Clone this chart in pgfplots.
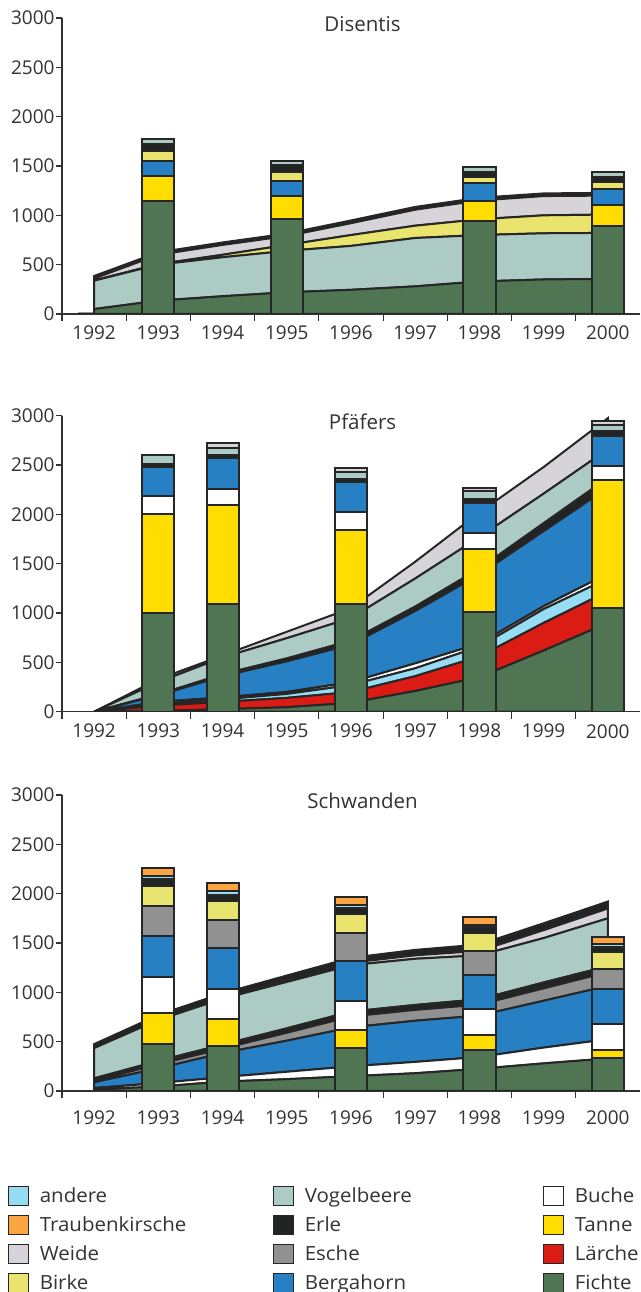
\documentclass[border=0pt]{standalone}
\usepackage{fontspec}
\setmainfont{Open Sans}
\newfontfamily\legfont[FakeStretch=1.05]{Open Sans}
\usepackage{pgfplots}
\usepackage{pgfplotstable}
\pgfplotsset{compat=1.18}

\definecolor{cFi}{RGB}{80,117,83}
\definecolor{cLa}{RGB}{218,28,20}
\definecolor{cTa}{RGB}{255,221,0}
\definecolor{cBu}{RGB}{255,255,255}
\definecolor{cBe}{RGB}{40,128,196}
\definecolor{cEs}{RGB}{145,145,145}
\definecolor{cEr}{RGB}{34,36,36}
\definecolor{cVo}{RGB}{172,203,196}
\definecolor{cBi}{RGB}{233,228,110}
\definecolor{cWe}{RGB}{214,212,216}
\definecolor{cTr}{RGB}{250,165,65}
\definecolor{cAn}{RGB}{150,220,242}
\definecolor{lc}{RGB}{38,38,38}
\definecolor{axc}{RGB}{50,50,50}
\definecolor{txc}{RGB}{51,51,51}

% ---------- Disentis ----------
\pgfplotstableread{
x Fi Vo Bi We To
1991.75 0 0 0 0 0
1991.999 0 0 0 0 0
1992 50 288 2 20 25
1993 135 365 5 95 25
1994 180 395 25 100 25
1995 220 420 60 90 25
1996 245 445 110 120 28
1997 280 490 125 162 28
1998 330 470 160 190 28
1999 350 468 182 195 27
2000 356 466 186 192 28
}\disA
\pgfplotstableread{
x Fi Ta Be Bi Er Vo
1993 1150 250 153 95 77 48
1995 963 230 152 95 67 48
1998 940 210 174 67 51 51
2000 895 210 162 74 51 51
}\disB
% ---------- Pfaefers ----------
\pgfplotstableread{
x Fi La An Bu Be Er Vo We
1992 0 0 0 0 0 0 0 0
1993 8 52 20 20 65 10 125 30
1994 25 75 25 20 215 20 170 20
1995 45 95 40 20 310 30 205 65
1996 90 110 70 30 380 40 230 100
1997 210 150 80 50 530 45 285 170
1998 350 210 100 30 700 60 320 250
1999 620 280 140 30 760 80 300 270
2000 900 320 130 50 870 100 290 315
}\pfaA
\pgfplotstableread{
x Fi Ta Bu Be Er Vo We
1993 1004 1000 180 300 30 90 0
1994 1092 1004 163 308 30 80 45
1996 1092 748 180 303 32 70 40
1998 1011 639 165 300 45 78 30
2000 1055 1290 150 300 45 70 35
}\pfaB
% ---------- Schwanden ----------
\pgfplotstableread{
x Fi Bu Be Es Er Vo We To
1992 15 15 58 15 25 307 5 35
1993 45 35 150 40 35 415 10 40
1994 95 45 245 45 40 465 15 40
1995 120 75 315 80 45 470 20 45
1996 150 100 395 110 50 470 25 50
1997 180 115 417 110 50 468 35 55
1998 225 120 420 110 55 445 45 65
1999 280 160 475 125 60 450 80 70
2000 330 195 540 140 60 485 100 70
}\schA
\pgfplotstableread{
x Fi Ta Bu Be Es Bi Er An Tr
1993 476 311 372 416 303 203 68 35 80
1994 456 274 300 416 290 193 57 40 80
1996 440 178 298 397 290 187 68 30 82
1998 416 152 260 350 240 180 62 25 75
2000 331 85 260 355 210 165 57 25 70
}\schB

\pgfplotsset{
 geom/.style={scale only axis, width=578pt, height=296pt,
   xmin=1991.5, xmax=2000.5, ymin=0, ymax=3000, enlargelimits=false,
   anchor=south west},
 panel/.style={geom,
   axis x line=bottom, axis y line=left,
   axis line style={-, draw=axc, line width=1.2pt},
   xtick={1992,...,2000}, minor xtick={1991.5,1992.5,...,1999.5},
   ytick={0,500,...,3000},
   tick style={draw=axc, line width=1.2pt},
   major x tick style=transparent,
   tick align=outside, major tick length=6pt, minor tick length=7pt,
   /pgf/number format/1000 sep={},
   /pgf/number format/assume math mode=true,
   tick label style={font=\fontsize{19}{22}\selectfont, text=txc},
   yticklabel style={xshift=2pt},
   title style={at={(0.52,1)}, anchor=base, yshift=-19.5pt,
     font=\fontsize{20.5}{24}\selectfont, text=txc},
   stack plots=y,
   every axis plot/.append style={draw=lc, line width=2pt},
 },
 bars/.style={geom, hide axis, ybar stacked, bar width=0.5,
   every axis plot/.append style={draw=lc, line width=2pt}},
 leg/.style={hide axis, scale only axis, width=5pt, height=5pt,
   xmin=0, xmax=1, ymin=0, ymax=1, anchor=north west,
   legend image code/.code={\draw[##1, draw=lc, line width=1.3pt] (0pt,-3pt) rectangle (20pt,16pt);},
   legend style={at={(0,1)}, anchor=north west, draw=none, fill=none,
     inner sep=0pt, outer sep=0pt, row sep=8.8pt, column sep=10.5pt,
     font=\legfont\fontsize{19.5}{23}\selectfont, text=txc,
     nodes={inner sep=0pt, text height=14pt, text depth=2pt},
     cells={anchor=base west}},
 },
}

\begin{document}
\begin{tikzpicture}
% ===== Disentis =====
\begin{axis}[panel, at={(62pt,978pt)}, title={Disentis}, xticklabel style={yshift=-2pt}]
\addplot[fill=cFi] table[x=x,y=Fi]{\disA} \closedcycle;
\addplot[fill=cVo] table[x=x,y=Vo]{\disA} \closedcycle;
\addplot[fill=cBi] table[x=x,y=Bi]{\disA} \closedcycle;
\addplot[fill=cWe] table[x=x,y=We]{\disA} \closedcycle;
\addplot[fill=cEr] table[x=x,y=To]{\disA} \closedcycle;
\end{axis}
\begin{axis}[bars, at={(62pt,978pt)}]
\addplot[fill=cFi] table[x=x,y=Fi]{\disB};
\addplot[fill=cTa] table[x=x,y=Ta]{\disB};
\addplot[fill=cBe] table[x=x,y=Be]{\disB};
\addplot[fill=cBi] table[x=x,y=Bi]{\disB};
\addplot[fill=cEr] table[x=x,y=Er]{\disB};
\addplot[fill=cVo] table[x=x,y=Vo]{\disB};
\end{axis}
% ===== Pfaefers =====
\begin{axis}[panel, at={(62pt,580.3pt)}, title={Pfäfers}, xticklabel style={yshift=-3pt}]
\addplot[fill=cFi] table[x=x,y=Fi]{\pfaA} \closedcycle;
\addplot[fill=cLa] table[x=x,y=La]{\pfaA} \closedcycle;
\addplot[fill=cAn] table[x=x,y=An]{\pfaA} \closedcycle;
\addplot[fill=cBu] table[x=x,y=Bu]{\pfaA} \closedcycle;
\addplot[fill=cBe] table[x=x,y=Be]{\pfaA} \closedcycle;
\addplot[fill=cEr] table[x=x,y=Er]{\pfaA} \closedcycle;
\addplot[fill=cVo] table[x=x,y=Vo]{\pfaA} \closedcycle;
\addplot[fill=cWe] table[x=x,y=We]{\pfaA} \closedcycle;
\end{axis}
\begin{axis}[bars, at={(62pt,580.3pt)}]
\addplot[fill=cFi] table[x=x,y=Fi]{\pfaB};
\addplot[fill=cTa] table[x=x,y=Ta]{\pfaB};
\addplot[fill=cBu] table[x=x,y=Bu]{\pfaB};
\addplot[fill=cBe] table[x=x,y=Be]{\pfaB};
\addplot[fill=cEr] table[x=x,y=Er]{\pfaB};
\addplot[fill=cVo] table[x=x,y=Vo]{\pfaB};
\addplot[fill=cWe] table[x=x,y=We]{\pfaB};
\end{axis}
% ===== Schwanden =====
\begin{axis}[panel, at={(62pt,201pt)}, title={Schwanden}, xticklabel style={yshift=-10pt}]
\addplot[fill=cFi] table[x=x,y=Fi]{\schA} \closedcycle;
\addplot[fill=cBu] table[x=x,y=Bu]{\schA} \closedcycle;
\addplot[fill=cBe] table[x=x,y=Be]{\schA} \closedcycle;
\addplot[fill=cEs] table[x=x,y=Es]{\schA} \closedcycle;
\addplot[fill=cEr] table[x=x,y=Er]{\schA} \closedcycle;
\addplot[fill=cVo] table[x=x,y=Vo]{\schA} \closedcycle;
\addplot[fill=cWe] table[x=x,y=We]{\schA} \closedcycle;
\addplot[fill=cEr] table[x=x,y=To]{\schA} \closedcycle;
\end{axis}
\begin{axis}[bars, at={(62pt,201pt)}]
\addplot[fill=cFi] table[x=x,y=Fi]{\schB};
\addplot[fill=cTa] table[x=x,y=Ta]{\schB};
\addplot[fill=cBu] table[x=x,y=Bu]{\schB};
\addplot[fill=cBe] table[x=x,y=Be]{\schB};
\addplot[fill=cEs] table[x=x,y=Es]{\schB};
\addplot[fill=cBi] table[x=x,y=Bi]{\schB};
\addplot[fill=cEr] table[x=x,y=Er]{\schB};
\addplot[fill=cAn] table[x=x,y=An]{\schB};
\addplot[fill=cTr] table[x=x,y=Tr]{\schB};
\end{axis}
% ===== Legend =====
\begin{axis}[leg, at={(8pt,106.5pt)}]
\addlegendimage{fill=cAn}\addlegendentry{andere}
\addlegendimage{fill=cTr}\addlegendentry{Traubenkirsche}
\addlegendimage{fill=cWe}\addlegendentry{Weide}
\addlegendimage{fill=cBi}\addlegendentry{Birke}
\end{axis}
\begin{axis}[leg, at={(273pt,106.5pt)}]
\addlegendimage{fill=cVo}\addlegendentry{Vogelbeere}
\addlegendimage{fill=cEr}\addlegendentry{Erle}
\addlegendimage{fill=cEs}\addlegendentry{Esche}
\addlegendimage{fill=cBe}\addlegendentry{Bergahorn}
\end{axis}
\begin{axis}[leg, at={(543pt,106.5pt)}]
\addlegendimage{fill=cBu}\addlegendentry{Buche}
\addlegendimage{fill=cTa}\addlegendentry{Tanne}
\addlegendimage{fill=cLa}\addlegendentry{Lärche}
\addlegendimage{fill=cFi}\addlegendentry{Fichte}
\end{axis}
\pgfresetboundingbox
\useasboundingbox (0,0) rectangle (640pt,1292pt);
\end{tikzpicture}
\end{document}
